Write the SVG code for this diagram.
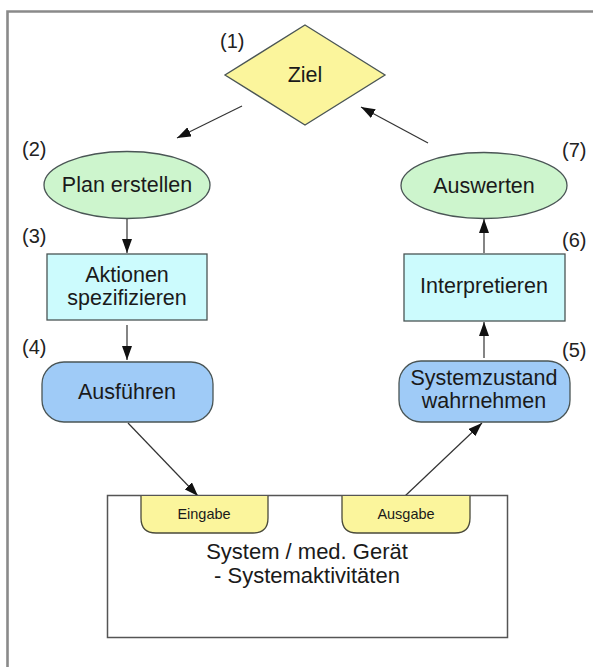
<svg xmlns="http://www.w3.org/2000/svg" width="593" height="667" viewBox="0 0 593 667">
  <defs>
    <marker id="arrow" viewBox="0 0 14 10" refX="14" refY="5" markerWidth="14" markerHeight="10" markerUnits="userSpaceOnUse" orient="auto">
      <path d="M0,0 L14,5 L0,10 Z" fill="#111"/>
    </marker>
    <style>
      .node { stroke: #4a5555; stroke-width: 1.3; }
      .goal { fill: #fbf59c; }
      .phase { fill: #cdf5cd; }
      .step { fill: #ccfbfd; }
      .act { fill: #9fcbf7; }
      .port { fill: #fbf59c; stroke: #4a4a3a; stroke-width: 1.3; }
      .sys { fill: #ffffff; stroke: #555555; stroke-width: 1.5; }
      .lbl { font-family: "Liberation Sans", Arial, sans-serif; font-size: 20px; fill: #222; }
      .txt { font-family: "Liberation Sans", Arial, sans-serif; font-size: 21.5px; fill: #1a1a1a; text-anchor: middle; }
      .small { font-family: "Liberation Sans", Arial, sans-serif; font-size: 14.5px; fill: #1a1a1a; text-anchor: middle; }
      .big { font-family: "Liberation Sans", Arial, sans-serif; font-size: 22px; fill: #1a1a1a; text-anchor: middle; }
      .edge { stroke: #333; stroke-width: 1.2; fill: none; marker-end: url(#arrow); }
    </style>
  </defs>

  <rect width="593" height="667" fill="#ffffff"/>

  <!-- outer frame (open to the right and bottom) -->
  <path d="M7.5,667 V11.5 H593" fill="none" stroke="#8a8a8a" stroke-width="2.6"/>

  <!-- connectors -->
  <g id="connectors">
    <line class="edge" x1="242" y1="106" x2="177" y2="138"/>
    <line class="edge" x1="127" y1="218" x2="127" y2="253"/>
    <line class="edge" x1="127" y1="325" x2="127" y2="360"/>
    <line class="edge" x1="128" y1="423" x2="198" y2="496"/>
    <line class="edge" x1="405" y1="496" x2="482" y2="423"/>
    <line class="edge" x1="484" y1="358" x2="484" y2="322"/>
    <line class="edge" x1="484" y1="253" x2="484" y2="219"/>
    <line class="edge" x1="428" y1="143" x2="361" y2="107"/>
  </g>

  <g id="ziel">
    <polygon class="node goal" points="305,25 385,75 305,125 225,75"/>
    <text class="txt" x="305" y="82">Ziel</text>
    <text class="lbl" x="220" y="48">(1)</text>
  </g>

  <g id="plan">
    <ellipse class="node phase" cx="127" cy="185" rx="83" ry="33.5"/>
    <text class="txt" x="127" y="192">Plan erstellen</text>
    <text class="lbl" x="22" y="156">(2)</text>
  </g>

  <g id="aktionen">
    <rect class="node step" x="47" y="254" width="160" height="66"/>
    <text class="txt" x="127" y="282">Aktionen</text>
    <text class="txt" x="127" y="305">spezifizieren</text>
    <text class="lbl" x="22" y="243">(3)</text>
  </g>

  <g id="ausfuehren">
    <rect class="node act" x="42" y="362" width="171" height="60" rx="22" ry="22"/>
    <text class="txt" x="127" y="399">Ausführen</text>
    <text class="lbl" x="22" y="354">(4)</text>
  </g>

  <g id="auswerten">
    <ellipse class="node phase" cx="484" cy="185.5" rx="83" ry="33"/>
    <text class="txt" x="484" y="193">Auswerten</text>
    <text class="lbl" x="562" y="157">(7)</text>
  </g>

  <g id="interpretieren">
    <rect class="node step" x="404" y="254" width="161" height="67"/>
    <text class="txt" x="484" y="293">Interpretieren</text>
    <text class="lbl" x="562" y="247">(6)</text>
  </g>

  <g id="systemzustand">
    <rect class="node act" x="399" y="361" width="171" height="61" rx="22" ry="22"/>
    <text class="txt" x="484" y="385">Systemzustand</text>
    <text class="txt" x="484" y="408">wahrnehmen</text>
    <text class="lbl" x="562" y="357">(5)</text>
  </g>

  <g id="system">
    <rect class="sys" x="107.5" y="495.5" width="400" height="142"/>
    <text class="big" x="307" y="559">System / med. Gerät</text>
    <text class="big" x="307" y="583">- Systemaktivitäten</text>
  </g>

  <g id="eingabe">
    <path class="port" d="M141,496 V518 Q141,533 156,533 H253 Q268,533 268,518 V496"/>
    <text class="small" x="204" y="519">Eingabe</text>
  </g>

  <g id="ausgabe">
    <path class="port" d="M342,496 V518 Q342,533 357,533 H455 Q470,533 470,518 V496"/>
    <text class="small" x="406" y="519">Ausgabe</text>
  </g>
</svg>
